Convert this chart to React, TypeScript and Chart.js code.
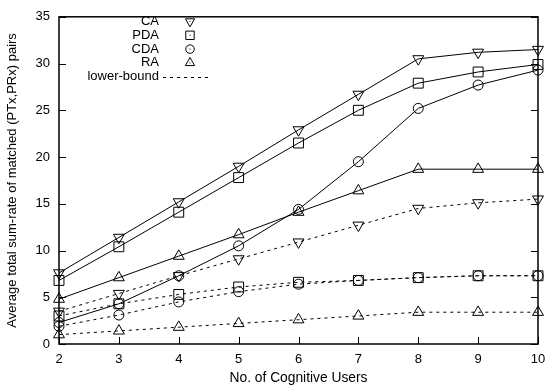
import React, { useEffect, useRef } from 'react';
import { Chart, registerables } from 'chart.js';

Chart.register(...registerables);

const users = [2, 3, 4, 5, 6, 7, 8, 9, 10];
const yTicks = [0, 5, 10, 15, 20, 25, 30, 35];

const caValues = [7.6, 11.4, 15.2, 19.0, 22.9, 26.7, 30.5, 31.2, 31.5];
const pdaValues = [6.8, 10.4, 14.1, 17.8, 21.5, 25.0, 27.9, 29.1, 29.9];
const cdaValues = [2.3, 4.3, 7.3, 10.5, 14.4, 19.5, 25.2, 27.7, 29.3];
const raValues = [4.8, 7.1, 9.4, 11.7, 14.1, 16.4, 18.7, 18.7, 18.7];

const caLower = [3.5, 5.4, 7.3, 9.1, 10.9, 12.7, 14.5, 15.1, 15.5];
const pdaLower = [3.0, 4.3, 5.3, 6.1, 6.6, 6.8, 7.1, 7.3, 7.3];
const cdaLower = [1.9, 3.1, 4.5, 5.6, 6.4, 6.8, 7.1, 7.3, 7.3];
const raLower = [1.0, 1.4, 1.8, 2.2, 2.6, 3.0, 3.4, 3.4, 3.4];

const legendLabels = ['CA', 'PDA', 'CDA', 'RA', 'lower-bound'];

const FONT = '"Liberation Sans", Arial, Helvetica, sans-serif';

type Marker = { style: string; radius: number; rotation: number };
const markers: Marker[] = [
  { style: 'triangle', radius: 6.3, rotation: 180 },
  { style: 'rect', radius: 7, rotation: 0 },
  { style: 'circle', radius: 5, rotation: 0 },
  { style: 'triangle', radius: 6.3, rotation: 0 },
];

function drawMarker(ctx: CanvasRenderingContext2D, m: Marker, x: number, y: number, scale: number) {
  const r = m.radius * scale;
  ctx.beginPath();
  if (m.style === 'circle') {
    ctx.arc(x, y, r, 0, Math.PI * 2);
  } else if (m.style === 'rect') {
    const s = Math.SQRT1_2 * r;
    ctx.rect(x - s, y - s, 2 * s, 2 * s);
  } else {
    let rad = (m.rotation * Math.PI) / 180;
    ctx.moveTo(x + Math.sin(rad) * r, y - Math.cos(rad) * r);
    rad += (2 * Math.PI) / 3;
    ctx.lineTo(x + Math.sin(rad) * r, y - Math.cos(rad) * r);
    rad += (2 * Math.PI) / 3;
    ctx.lineTo(x + Math.sin(rad) * r, y - Math.cos(rad) * r);
    ctx.closePath();
  }
  ctx.stroke();
  ctx.fillStyle = '#000';
  ctx.fillRect(x - 0.5, y - 0.5, 1, 1);
}

const framePlugin = {
  id: 'frameAndLegend',
  afterDraw(chart: any) {
    const { ctx, chartArea } = chart;
    const { left, right, top, bottom } = chartArea;
    const xs = chart.scales.x;
    const ys = chart.scales.y;
    ctx.save();
    ctx.strokeStyle = '#000';
    ctx.lineWidth = 1.5;
    ctx.setLineDash([]);
    ctx.strokeRect(left, top, right - left, bottom - top);
    ctx.lineWidth = 1;
    ctx.beginPath();
    for (const v of yTicks) {
      const py = Math.round(ys.getPixelForValue(v)) + 0.5;
      ctx.moveTo(left, py);
      ctx.lineTo(left + 7, py);
      ctx.moveTo(right, py);
      ctx.lineTo(right - 7, py);
    }
    for (const v of users) {
      const px = Math.round(xs.getPixelForValue(v)) + 0.5;
      ctx.moveTo(px, bottom);
      ctx.lineTo(px, bottom - 7);
    }
    ctx.stroke();

    // legend
    ctx.font = `13px ${FONT}`;
    ctx.textAlign = 'right';
    ctx.textBaseline = 'middle';
    const textRight = 159;
    const markX = 190;
    legendLabels.forEach((label, i) => {
      const ly = 21.5 + i * 13.8;
      ctx.fillStyle = '#000';
      ctx.fillText(label, textRight, ly);
      ctx.lineWidth = 1;
      if (i < 4) {
        drawMarker(ctx, markers[i], markX, ly, 0.85);
      } else {
        ctx.beginPath();
        ctx.setLineDash([3, 4]);
        ctx.moveTo(163, Math.round(ly) + 0.5);
        ctx.lineTo(208, Math.round(ly) + 0.5);
        ctx.stroke();
        ctx.setLineDash([]);
      }
    });
    ctx.restore();
  },
};

function series(label: string, values: number[], m: Marker, dashed: boolean) {
  return {
    label,
    data: users.map((u, i) => ({ x: u, y: values[i] })),
    borderColor: '#000',
    borderWidth: 1,
    borderDash: dashed ? [3, 4] : [],
    pointStyle: m.style,
    pointRadius: m.radius,
    pointRotation: m.rotation,
    pointBorderColor: '#000',
    pointBackgroundColor: 'rgba(0,0,0,0)',
    pointBorderWidth: 1,
    tension: 0,
    clip: false as any,
    fill: false,
  };
}

export default function App() {
  const ref = useRef<HTMLCanvasElement | null>(null);
  useEffect(() => {
    if (!ref.current) return;
    const chart = new Chart(ref.current, {
      type: 'line',
      data: {
        datasets: [
          series('CA', caValues, markers[0], false),
          series('PDA', pdaValues, markers[1], false),
          series('CDA', cdaValues, markers[2], false),
          series('RA', raValues, markers[3], false),
          series('CA lower-bound', caLower, markers[0], true),
          series('PDA lower-bound', pdaLower, markers[1], true),
          series('CDA lower-bound', cdaLower, markers[2], true),
          series('RA lower-bound', raLower, markers[3], true),
        ] as any,
      },
      options: {
        animation: false,
        responsive: false,
        devicePixelRatio: 1,
        layout: { padding: { top: 7, right: 19, left: 0, bottom: 0 } },
        plugins: {
          legend: { display: false },
          tooltip: { enabled: false },
        },
        scales: {
          x: {
            type: 'linear',
            min: 2,
            max: 10,
            grid: { display: false, drawTicks: false },
            border: { display: false },
            ticks: {
              stepSize: 1,
              padding: 8,
              color: '#000',
              font: { family: FONT, size: 13 },
              maxRotation: 0,
            },
            title: {
              display: true,
              text: 'No. of Cognitive Users',
              color: '#000',
              font: { family: FONT, size: 13.8 },
              padding: { top: 0, bottom: 6 },
            },
            afterFit: (scale: any) => {
              scale.height = 48;
            },
          },
          y: {
            type: 'linear',
            min: 0,
            max: 35,
            grid: { display: false, drawTicks: false },
            border: { display: false },
            ticks: {
              stepSize: 5,
              padding: 9,
              color: '#000',
              font: { family: FONT, size: 13 },
            },
            title: {
              display: true,
              text: 'Average total sum-rate of matched (PTx,PRx) pairs',
              color: '#000',
              font: { family: FONT, size: 13 },
              padding: { top: 5, bottom: 0 },
            },
            afterFit: (scale: any) => {
              scale.width = 59;
            },
          },
        },
      },
      plugins: [framePlugin],
    });
    return () => chart.destroy();
  }, []);
  return (
    <div style={{ position: 'fixed', left: 0, top: 0, width: 557, height: 392, background: '#fff' }}>
      <canvas ref={ref} width={557} height={392} style={{ display: 'block' }} />
    </div>
  );
}
